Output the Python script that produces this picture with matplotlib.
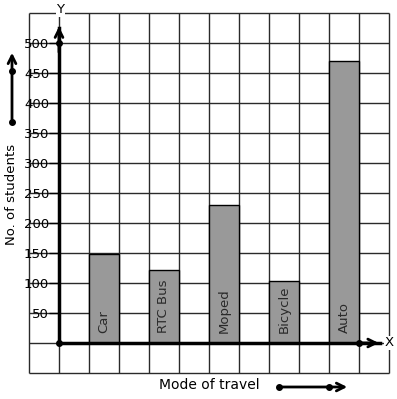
import numpy as np
import matplotlib.pyplot as plt

modes = ['Car', 'RTC Bus', 'Moped', 'Bicycle', 'Auto']
students = [148, 121, 230, 103, 470]
yticks = [50, 100, 150, 200, 250, 300, 350, 400, 450, 500]

W, H = 397, 399
fig = plt.figure(figsize=(W/100, H/100), dpi=100)
ax = fig.add_axes([29/W, 26/H, 360/W, 360/H])
ax.set_xlim(-1, 11)
ax.set_ylim(-50, 550)

# grid of squares
ax.vlines(np.arange(-1, 12), -50, 550, colors='#2a2a2a', lw=1, zorder=0, clip_on=False)
ax.hlines(np.arange(-50, 551, 50), -1, 11, colors='#2a2a2a', lw=1, zorder=0, clip_on=False)

# bars
pos = np.arange(len(modes)) * 2 + 1
ax.bar(pos, students, width=1, align='edge', color='#999999', edgecolor='black', lw=1, zorder=2)
for p, m in zip(pos, modes):
    ax.text(p + 0.5, 16, m, rotation=90, ha='center', va='bottom', fontsize=9.5, color='#2a2a2a', zorder=3)

# axes
for s in ['top', 'right', 'bottom']:
    ax.spines[s].set_visible(False)
ax.spines['left'].set_position(('data', 0))
ax.spines['left'].set_bounds(0, 525)
ax.spines['left'].set_linewidth(2.5)
ax.set_xticks([])
ax.set_yticks(yticks)
ax.set_yticklabels([str(v) for v in yticks])
ax.tick_params(axis='y', length=7, width=1, pad=0, labelsize=9.5)
ax.annotate('', xy=(0, 532), xytext=(0, 480),
            arrowprops=dict(arrowstyle='->', lw=2, mutation_scale=14), zorder=4)
ax.plot([0, 10.7], [0, 0], color='black', lw=2.5, zorder=4, clip_on=False)
ax.annotate('', xy=(10.75, 0), xytext=(10.0, 0),
            arrowprops=dict(arrowstyle='->', lw=2, mutation_scale=14), annotation_clip=False, zorder=4)
ax.plot([0, 0, 10], [0, 500, 0], 'o', color='black', ms=4, zorder=5, clip_on=False)
ax.text(0.05, 555, 'Y', ha='center', va='center', fontsize=9.5,
        bbox=dict(fc='white', ec='none', pad=0.5), clip_on=False)
ax.text(11, 0, 'X', ha='center', va='center', fontsize=9.5,
        bbox=dict(fc='white', ec='none', pad=0.5), clip_on=False)

# axis titles with arrows
fig.text(12/W, 1 - 194/H, 'No. of students', rotation=90, ha='center', va='center', fontsize=9.5)
fig.text(209/W, 1 - 385/H, 'Mode of travel', ha='center', va='center', fontsize=10)
ax.annotate('', xy=(12/W, 1 - 50/H), xytext=(12/W, 1 - 122/H), xycoords='figure fraction',
            arrowprops=dict(arrowstyle='->', lw=2, mutation_scale=14))
ax.annotate('', xy=(350/W, 1 - 387/H), xytext=(279/W, 1 - 387/H), xycoords='figure fraction',
            arrowprops=dict(arrowstyle='->', lw=2, mutation_scale=14))
fig.lines.append(plt.Line2D([12/W, 12/W], [1 - 122/H, 1 - 71/H], transform=fig.transFigure,
                            ls='none', marker='o', ms=4, color='black'))
fig.lines.append(plt.Line2D([279/W, 329/W], [1 - 387/H, 1 - 387/H], transform=fig.transFigure,
                            ls='none', marker='o', ms=4, color='black'))

fig.savefig('out.png', dpi=100)
